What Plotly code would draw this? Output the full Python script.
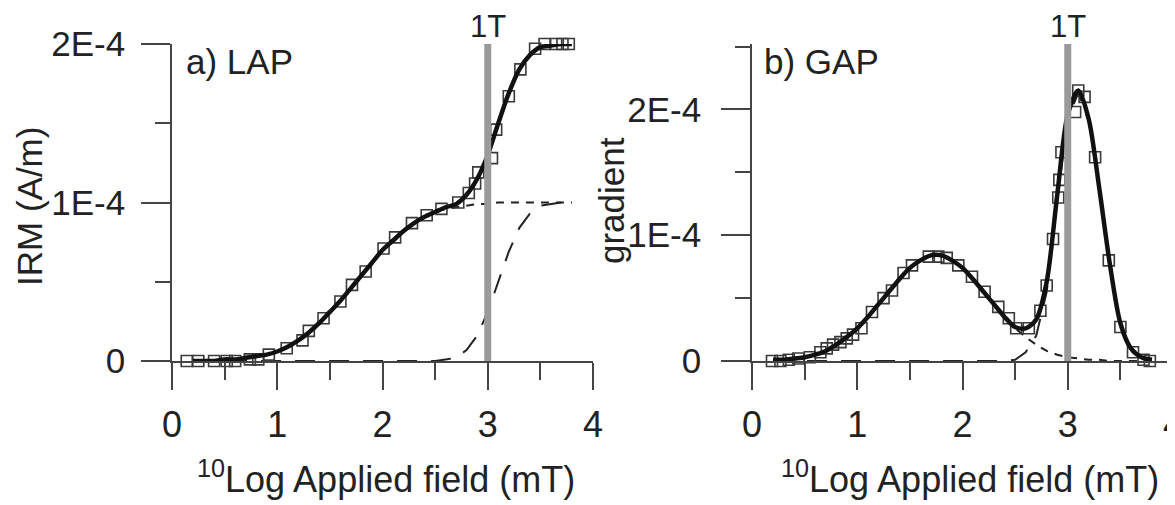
import plotly.graph_objects as go

# ---------------- data (IRM values in units of 1E-4 A/m) ----------------
# a) LAP : measured points
lap_x = [0.14, 0.25, 0.40, 0.52, 0.60, 0.74, 0.82, 0.92, 1.09, 1.24, 1.30, 1.44, 1.60, 1.71,
         1.84, 2.01, 2.12, 2.28, 2.42, 2.56, 2.72, 2.82, 2.88, 2.91, 3.04, 3.08, 3.20, 3.31,
         3.45, 3.54, 3.65, 3.71, 3.77]
lap_y = [0.00, 0.00, 0.00, 0.00, 0.00, 0.01, 0.01, 0.04, 0.08, 0.13, 0.19, 0.27, 0.375, 0.48,
         0.565, 0.71, 0.78, 0.87, 0.92, 0.96, 1.00, 1.06, 1.12, 1.19, 1.28, 1.46, 1.67, 1.84,
         1.97, 2.00, 2.00, 2.00, 2.00]

# common grid for fitted curves / components
grid_x = [0.2, 0.3, 0.4, 0.5, 0.6, 0.7, 0.8, 0.9, 1.0, 1.1, 1.2, 1.3, 1.4, 1.5, 1.6, 1.7, 1.8,
          1.9, 2.0, 2.1, 2.2, 2.3, 2.4, 2.5, 2.6, 2.7, 2.8, 2.9, 3.0, 3.1, 3.2, 3.3, 3.4, 3.5,
          3.6, 3.7, 3.8]

lap_fit = [0.00, 0.00, 0.00, 0.01, 0.01, 0.02, 0.03, 0.04, 0.06,
           0.09, 0.13, 0.18, 0.24, 0.31, 0.38, 0.46, 0.54, 0.62, 0.70,
           0.76, 0.82, 0.87, 0.91, 0.94, 0.97, 0.99, 1.05, 1.15, 1.30,
           1.50, 1.69, 1.84, 1.93, 1.98, 1.99, 2.00, 2.00]
lap_comp1 = [0.00, 0.00, 0.00, 0.01, 0.01, 0.02, 0.03, 0.04, 0.06,
             0.09, 0.13, 0.18, 0.24, 0.31, 0.38, 0.46, 0.54, 0.62, 0.70,
             0.76, 0.82, 0.87, 0.91, 0.94, 0.96, 0.97, 0.98, 0.99, 0.99,
             1.00, 1.00, 1.00, 1.00, 1.00, 1.00, 1.00, 1.00]
lap_comp2 = [0.00, 0.00, 0.00, 0.00, 0.00, 0.00, 0.00, 0.00, 0.00,
             0.00, 0.00, 0.00, 0.00, 0.00, 0.00, 0.00, 0.00, 0.00, 0.00,
             0.00, 0.00, 0.00, 0.00, 0.00, 0.01, 0.02, 0.07, 0.16, 0.31,
             0.50, 0.69, 0.84, 0.93, 0.98, 0.99, 1.00, 1.00]

# b) GAP : measured gradient points
gap_x = [0.19, 0.27, 0.35, 0.44, 0.55, 0.65, 0.71, 0.77, 0.84, 0.90, 0.96, 1.04, 1.14, 1.25,
         1.33, 1.44, 1.52, 1.68, 1.77, 1.85, 1.96, 2.09, 2.21, 2.34, 2.44, 2.51, 2.63, 2.74,
         2.80, 2.86, 2.91, 2.92, 2.94, 3.07, 3.10, 3.16, 3.26, 3.39, 3.50, 3.62, 3.72, 3.78]
gap_y = [0.00, 0.00, 0.01, 0.02, 0.03, 0.07, 0.10, 0.13, 0.15, 0.18, 0.21, 0.26, 0.39, 0.50,
         0.56, 0.70, 0.76, 0.83, 0.83, 0.82, 0.76, 0.67, 0.55, 0.43, 0.34, 0.26, 0.26, 0.40,
         0.60, 0.97, 1.30, 1.44, 1.66, 1.98, 2.15, 2.10, 1.62, 0.80, 0.27, 0.07, 0.01, 0.00]

gap_fit = [0.01, 0.01, 0.02, 0.03, 0.05, 0.08, 0.13, 0.19, 0.26,
           0.35, 0.45, 0.55, 0.65, 0.74, 0.80, 0.84, 0.84, 0.80, 0.74,
           0.65, 0.55, 0.45, 0.35, 0.27, 0.26, 0.33, 0.63, 1.32, 1.96,
           2.15, 1.92, 1.37, 0.77, 0.30, 0.10, 0.03, 0.01]
gap_comp1 = [0.01, 0.01, 0.02, 0.03, 0.05, 0.08, 0.13, 0.19, 0.26,
             0.35, 0.45, 0.55, 0.65, 0.74, 0.80, 0.84, 0.84, 0.80, 0.74,
             0.65, 0.55, 0.45, 0.35, 0.26, 0.19, 0.13, 0.08, 0.05, 0.03,
             0.02, 0.01, 0.01, 0.00, 0.00, 0.00, 0.00, 0.00]
gap_comp2 = [0.00, 0.00, 0.00, 0.00, 0.00, 0.00, 0.00, 0.00, 0.00,
             0.00, 0.00, 0.00, 0.00, 0.00, 0.00, 0.00, 0.00, 0.00, 0.00,
             0.00, 0.00, 0.00, 0.00, 0.01, 0.07, 0.20, 0.55, 1.27, 1.93,
             2.13, 1.91, 1.36, 0.77, 0.30, 0.10, 0.03, 0.01]

x_ticks = [0, 1, 2, 3, 4]
x_minor = [0.5, 1.5, 2.5, 3.5]
lap_yticks = [0, 1, 2]
lap_yminor = [0.5, 1.5]
gap_yticks = [0, 1, 2]
gap_yminor = [0.5, 1.5, 2.5]
ytick_text = ["0", "1E-4", "2E-4"]
field_1T = 3.0

FONT = "Liberation Sans, Arial, sans-serif"
TXT = "#222222"
AX = "#444444"

# page body has an 8px margin: figure is drawn 8px in from the window corner
OFF = 8
W, H = 1175 - OFF, 505 - OFF


def px(xs):  # window x-pixel -> paper fraction
    return (xs - OFF) / W


def py(ys):  # window y-pixel (from top) -> paper fraction
    return 1 - (ys - OFF) / H


fig = go.Figure()


def add_panel(xa, ya, mx, my, fit, c1, c2):
    fig.add_trace(go.Scatter(x=grid_x, y=c2, mode="lines", xaxis=xa, yaxis=ya,
                             line=dict(color="#222", width=2, dash="20px,14px"),
                             cliponaxis=False, showlegend=False))
    fig.add_trace(go.Scatter(x=grid_x, y=c1, mode="lines", xaxis=xa, yaxis=ya,
                             line=dict(color="#222", width=2, dash="8px,7px"),
                             cliponaxis=False, showlegend=False))
    fig.add_trace(go.Scatter(x=mx, y=my, mode="markers", xaxis=xa, yaxis=ya,
                             marker=dict(symbol="square-open", size=11, color="#3a3a3a",
                                         line=dict(width=1.6)),
                             cliponaxis=False, showlegend=False))
    fig.add_trace(go.Scatter(x=grid_x, y=fit, mode="lines", xaxis=xa, yaxis=ya,
                             line=dict(color="#111", width=4.5, shape="spline", smoothing=0.8),
                             cliponaxis=False, showlegend=False))


add_panel("x", "y", lap_x, lap_y, lap_fit, lap_comp1, lap_comp2)
add_panel("x2", "y2", gap_x, gap_y, gap_fit, gap_comp1, gap_comp2)

ydom = [py(361), py(44)]


def xaxis(dom, anchor):
    return dict(domain=dom, anchor=anchor, range=[0, 4], tickvals=x_ticks, automargin=False,
                showline=True, linecolor=AX, linewidth=1.5, ticks="outside", ticklen=27,
                tickwidth=1.5, tickcolor=AX, showgrid=False, zeroline=False,
                ticklabeloverflow="allow",
                tickfont=dict(family=FONT, size=36, color=TXT), ticklabelstandoff=4,
                minor=dict(tickvals=x_minor, ticks="outside", ticklen=17, tickwidth=1.5,
                           tickcolor=AX, showgrid=False))


def yaxis(anchor, rng, tv, mv, standoff):
    return dict(domain=ydom, anchor=anchor, range=rng, tickvals=tv, ticktext=ytick_text,
                automargin=False, ticklabeloverflow="allow",
                showline=True, linecolor=AX, linewidth=1.5, ticks="outside", ticklen=29,
                tickwidth=1.5, tickcolor=AX, showgrid=False, zeroline=False,
                tickfont=dict(family=FONT, size=35, color=TXT), ticklabelstandoff=standoff,
                minor=dict(tickvals=mv, ticks="outside", ticklen=15, tickwidth=1.5,
                           tickcolor=AX, showgrid=False))


fig.update_layout(
    width=W, height=H, margin=dict(l=0, r=0, t=0, b=0, autoexpand=False),
    paper_bgcolor="white", plot_bgcolor="white",
    xaxis=xaxis([px(172), px(593)], "y"),
    yaxis=yaxis("x", [0, 2.0], lap_yticks, lap_yminor, 9),
    xaxis2=xaxis([px(752), min(px(1173), 1.0)], "y2"),
    yaxis2=yaxis("x2", [0, 2.52], gap_yticks, gap_yminor, 13),
    shapes=[
        dict(type="line", xref="x", yref="y", x0=field_1T, x1=field_1T, y0=0, y1=2.0,
             line=dict(color="#9a9a9a", width=7), layer="above"),
        dict(type="line", xref="x2", yref="y2", x0=field_1T, x1=field_1T, y0=0, y1=2.52,
             line=dict(color="#9a9a9a", width=7), layer="above"),
    ],
)


def ann(text, x, y, size, xref="paper", xanchor="center", angle=0):
    fig.add_annotation(text=text, x=x, y=y, xref=xref, yref="paper", xanchor=xanchor,
                       yanchor="middle", showarrow=False, textangle=angle,
                       font=dict(family=FONT, size=size, color=TXT))


ann("<sup>10</sup>Log Applied field (mT)", px(386), py(477), 36)
ann("<sup>10</sup>Log Applied field (mT)", px(970), py(477), 36)
ann("IRM (A/m)", px(29), py(207), 35, angle=-90)
ann("gradient", px(611), py(201), 35, angle=-90)
ann("a) LAP", px(184), py(61), 35, xanchor="left")
ann("b) GAP", px(762), py(61), 35, xanchor="left")
ann("1T", field_1T, py(26), 31, xref="x")
ann("1T", field_1T, py(26), 31, xref="x2")

fig.write_html("out.html")
